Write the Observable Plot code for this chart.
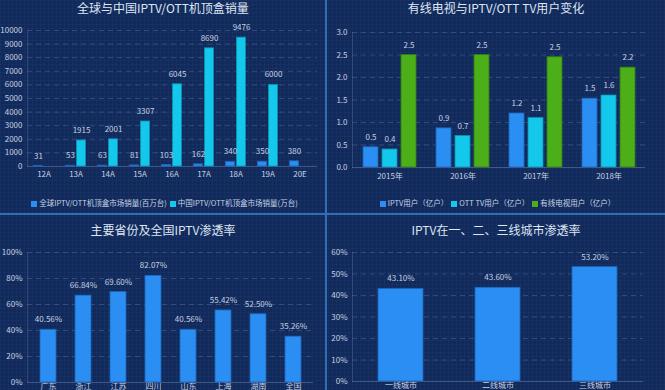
<!DOCTYPE html>
<html><head><meta charset="utf-8">
<script src="https://cdn.jsdelivr.net/npm/d3@7"></script>
<script src="https://cdn.jsdelivr.net/npm/@observablehq/plot@0.6"></script>
<style>
html,body{margin:0;padding:0;background:#102a5c;}
#root{position:relative;width:665px;height:390px;overflow:hidden;background-color:#102a5c;
  background-image:linear-gradient(rgba(255,255,255,0.025) 1px,transparent 1px),linear-gradient(90deg,rgba(255,255,255,0.025) 1px,transparent 1px);
  background-size:4px 4px;
  font-family:"Noto Sans CJK SC","Noto Sans",sans-serif;}
.panel{position:absolute;}
.title{position:absolute;left:0;right:0;text-align:center;color:#dfe6f2;font-size:12px;line-height:13px;white-space:nowrap;}
.legend{position:absolute;left:0;right:0;text-align:center;color:#c9d2e3;font-size:7.5px;line-height:10px;white-space:nowrap;}
.sw{display:inline-block;width:6px;height:6px;margin:0 2px 0 3px;vertical-align:-0.5px;}
.panel svg{position:absolute;left:0;overflow:visible;}
.vline{position:absolute;left:325px;top:0;width:2px;height:390px;background:#2f6fb8;}
.hline{position:absolute;left:0;top:213px;width:665px;height:2px;background:#2f6fb8;}
</style></head>
<body>
<div id="root">
  <div class="panel" id="p1" style="left:0;top:0;width:326px;height:214px;">
    <div class="title" style="top:1px;">全球与中国IPTV/OTT机顶盒销量</div>
    <div class="legend" id="lg1" style="top:198px;"></div>
  </div>
  <div class="panel" id="p2" style="left:327px;top:0;width:338px;height:214px;">
    <div class="title" style="top:1px;">有线电视与IPTV/OTT TV用户变化</div>
    <div class="legend" id="lg2" style="top:198px;"></div>
  </div>
  <div class="panel" id="p3" style="left:0;top:215px;width:326px;height:175px;">
    <div class="title" style="top:8px;">主要省份及全国IPTV渗透率</div>
  </div>
  <div class="panel" id="p4" style="left:327px;top:215px;width:338px;height:175px;">
    <div class="title" style="top:8px;">IPTV在一、二、三线城市渗透率</div>
  </div>
  <div class="vline"></div>
  <div class="hline"></div>
</div>
<script>
// ---- data ----
const years1 = ["12A","13A","14A","15A","16A","17A","18A","19A","20E"];
const globalSales = [31,53,63,81,103,162,340,350,380];
const chinaSales = [null,1915,2001,3307,6045,8690,9476,6000,null];
const y1Ticks = [0,1000,2000,3000,4000,5000,6000,7000,8000,9000,10000];
const legend1 = ["全球IPTV/OTT机顶盒市场销量(百万台)","中国IPTV/OTT机顶盒市场销量(万台)"];

const years2 = ["2015年","2016年","2017年","2018年"];
const iptvUsers = [0.45,0.87,1.2,1.53];
const ottUsers = [0.4,0.7,1.1,1.6];
const cableUsers = [2.5,2.5,2.45,2.22];
const y2Ticks = [0,0.5,1,1.5,2,2.5,3];
const legend2 = ["IPTV用户（亿户）","OTT TV用户（亿户）","有线电视用户（亿户）"];

const provinces = ["广东","浙江","江苏","四川","山东","上海","湖南","全国"];
const provRates = [40.56,66.84,69.60,82.07,40.56,55.42,52.50,35.26];
const y3Ticks = [0,20,40,60,80,100];

const cityTiers = ["一线城市","二线城市","三线城市"];
const cityRates = [43.10,43.60,53.20];
const y4Ticks = [0,10,20,30,40,50,60];

const C_BLUE = "#2b8ef2", C_CYAN = "#13c8ea", C_GREEN = "#4cae18";
const TXT = "#c8d0e0";
const GRID = "#6d86b8";

function ver(){ const v=(Plot.version||"0.6.0").split(".").map(Number); return v[1]*100+(v[2]||0); }
const hasAnchor = ver() >= 610;

function baseStyle(){ return {background:"transparent",color:TXT,fontSize:"8px",fontFamily:'"Noto Sans CJK SC","Noto Sans",sans-serif',overflow:"visible"}; }
function gridMarks(ticks){
  const m = [
    Plot.ruleY(ticks.slice(1), {stroke:GRID, strokeOpacity:0.35, strokeDasharray:"5,4"}),
    Plot.ruleY([0], {stroke:GRID, strokeOpacity:0.5})
  ];
  if (hasAnchor) m.push(Plot.frame({anchor:"left", stroke:GRID, strokeOpacity:0.3}));
  return m;
}
function place(id, svg, top){ svg.style.top = top+"px"; document.getElementById(id).appendChild(svg); }
function legend(id, names, colors){
  document.getElementById(id).innerHTML = names.map((n,i)=>`<span class="sw" style="background:${colors[i]}"></span>${n}`).join("");
}

// ---- panel 1 ----
const d1g = years1.map((c,i)=>({c, v:globalSales[i]}));
const d1c = years1.map((c,i)=>({c, v:chinaSales[i]})).filter(d=>d.v!=null);
place("p1", Plot.plot({
  width:326, height:170, marginTop:10, marginBottom:24, marginLeft:27, marginRight:9,
  style:baseStyle(),
  x:{domain:years1, paddingInner:0.705, paddingOuter:0.3525, tickSize:0, tickPadding:5, label:null},
  y:{domain:[0,10000], ticks:y1Ticks, tickSize:0, tickPadding:5, tickFormat:d=>String(d), label:null},
  marks:[
    ...gridMarks(y1Ticks),
    Plot.barY(d1g,{x:"c", y:"v", dx:-5.5, fill:C_BLUE, stroke:"#1d64b8", strokeWidth:0.8}),
    Plot.barY(d1c,{x:"c", y:"v", dx:5.5, fill:C_CYAN, stroke:"#0f8fb0", strokeWidth:0.8}),
    Plot.text(d1g,{x:"c", y:"v", dx:-5.5, dy:-10, text:d=>String(d.v), fill:TXT, fontSize:8}),
    Plot.text(d1c,{x:"c", y:"v", dx:5.5, dy:-10, text:d=>String(d.v), fill:TXT, fontSize:8})
  ]
}), 20);
legend("lg1", legend1, [C_BLUE, C_CYAN]);

// ---- panel 2 ----
const f1 = v => (Math.round(v*10)/10).toFixed(1);
const series2 = [[iptvUsers,C_BLUE,-19,"#1d64b8"],[ottUsers,C_CYAN,0,"#0f8fb0"],[cableUsers,C_GREEN,19,"#357d10"]];
const marks2 = [...gridMarks(y2Ticks)];
for (const [vals,col,dx,sc] of series2){
  const d = years2.map((c,i)=>({c, v:vals[i]}));
  marks2.push(Plot.barY(d,{x:"c", y:"v", dx, fill:col, stroke:sc, strokeWidth:0.8}));
  marks2.push(Plot.text(d,{x:"c", y:"v", dx, dy:-10, text:d=>f1(d.v), fill:TXT, fontSize:8}));
}
place("p2", Plot.plot({
  width:338, height:170, marginTop:12, marginBottom:23, marginLeft:25, marginRight:20,
  style:baseStyle(),
  x:{domain:years2, paddingInner:0.795, paddingOuter:0.3975, tickSize:0, tickPadding:6, label:null},
  y:{domain:[0,3], ticks:y2Ticks, tickSize:0, tickPadding:5, tickFormat:d3.format(".1f"), label:null},
  marks:marks2
}), 20);
legend("lg2", legend2, [C_BLUE, C_CYAN, C_GREEN]);

// ---- panel 3 ----
const d3p = provinces.map((c,i)=>({c, v:provRates[i]}));
place("p3", Plot.plot({
  width:326, height:160, marginTop:17, marginBottom:13, marginLeft:27, marginRight:13,
  style:baseStyle(),
  x:{domain:provinces, paddingInner:0.55, paddingOuter:0.275, tickSize:0, tickPadding:1, label:null},
  y:{domain:[0,100], ticks:y3Ticks, tickSize:0, tickPadding:5, tickFormat:d=>d+"%", label:null},
  marks:[
    ...gridMarks(y3Ticks),
    Plot.barY(d3p,{x:"c", y:"v", fill:C_BLUE, stroke:"#1d64b8", strokeWidth:0.8}),
    Plot.text(d3p,{x:"c", y:"v", dy:-10, text:d=>d.v.toFixed(2)+"%", fill:TXT, fontSize:8})
  ]
}), 20);

// ---- panel 4 ----
const d4 = cityTiers.map((c,i)=>({c, v:cityRates[i]}));
place("p4", Plot.plot({
  width:338, height:159, marginTop:17, marginBottom:13, marginLeft:25, marginRight:22,
  style:baseStyle(),
  x:{domain:cityTiers, paddingInner:0.536, paddingOuter:0.268, tickSize:0, tickPadding:1, label:null},
  y:{domain:[0,60], ticks:y4Ticks, tickSize:0, tickPadding:5, tickFormat:d=>d+"%", label:null},
  marks:[
    ...gridMarks(y4Ticks),
    Plot.barY(d4,{x:"c", y:"v", fill:C_BLUE, stroke:"#1d64b8", strokeWidth:0.8}),
    Plot.text(d4,{x:"c", y:"v", dy:-10, text:d=>d.v.toFixed(2)+"%", fill:TXT, fontSize:8})
  ]
}), 20);
</script>
</body></html>
